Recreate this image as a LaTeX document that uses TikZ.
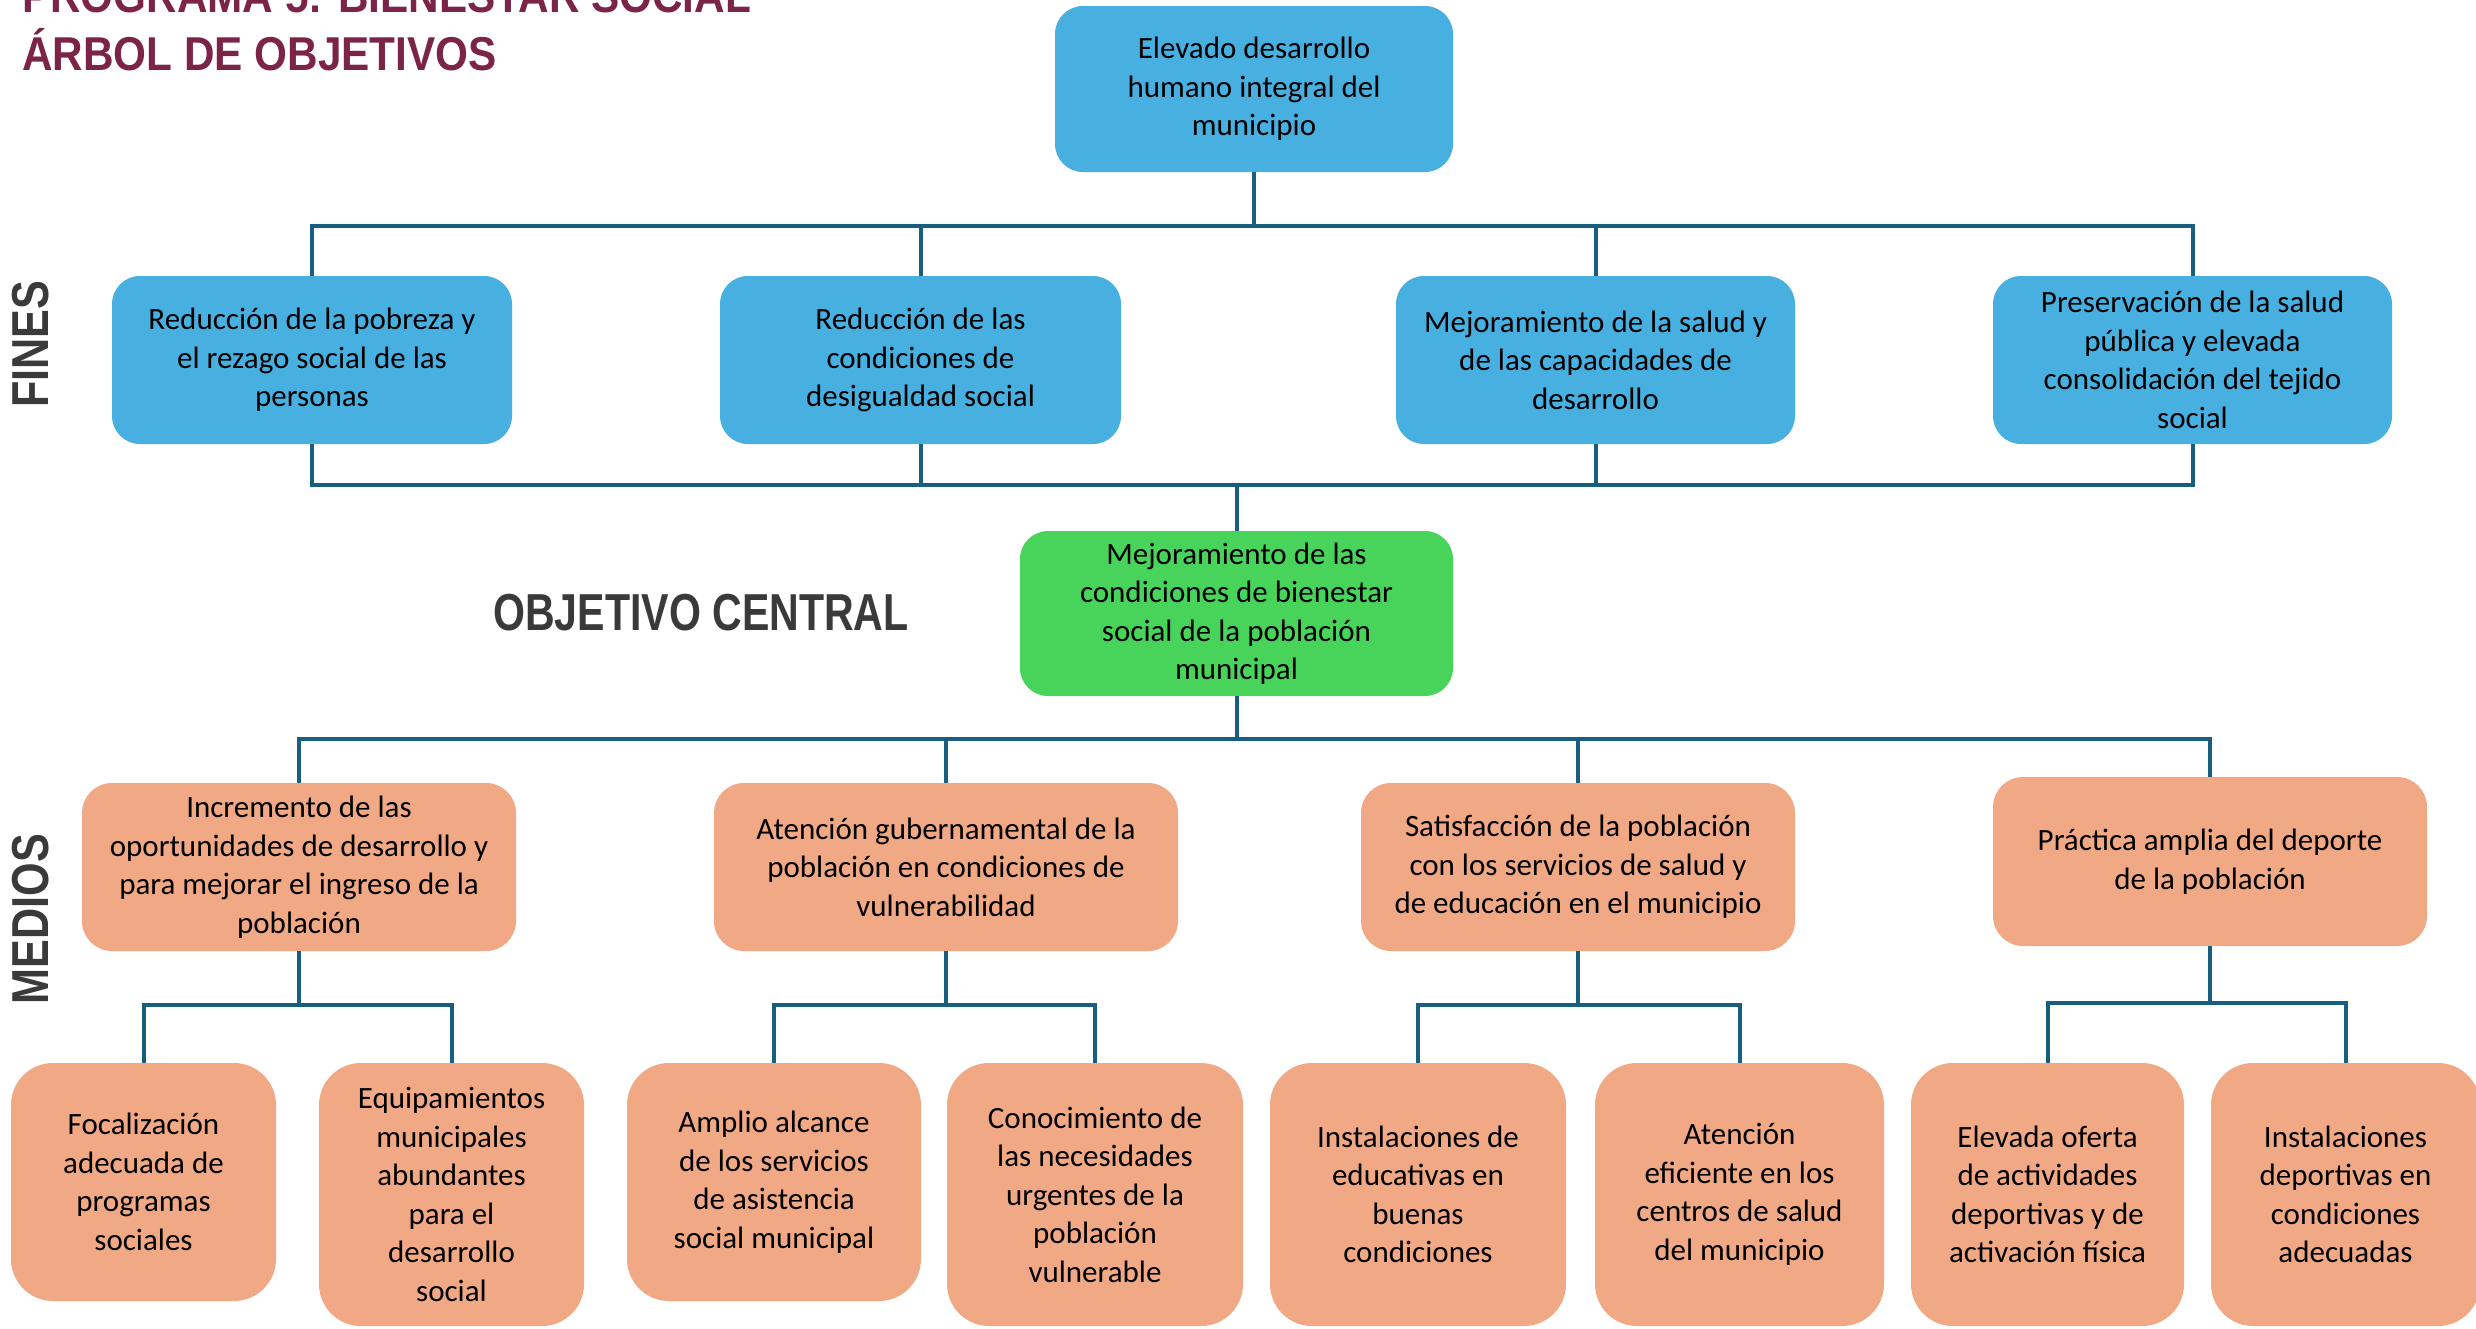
\documentclass[tikz,border=0pt]{standalone}
\usepackage{fontspec}
\setmainfont{Carlito}
\newfontfamily\labfont{Liberation Sans}
\definecolor{lncol}{RGB}{23,94,128}
\definecolor{bluefill}{RGB}{71,176,224}
\definecolor{greenfill}{RGB}{72,212,90}
\definecolor{salmonfill}{RGB}{241,169,133}
\definecolor{titlecol}{RGB}{124,35,72}
\definecolor{labcol}{RGB}{58,58,58}
\tikzset{
  boxbase/.style={rectangle, inner sep=0pt, align=center, text=black,
    font=\fontsize{31}{38.5}\selectfont},
  bluebox/.style={boxbase, fill=bluefill, rounded corners=28pt},
  greenbox/.style={boxbase, fill=greenfill, rounded corners=28pt},
  medbox/.style={boxbase, fill=salmonfill, rounded corners=30pt},
  kidbox/.style={boxbase, fill=salmonfill, rounded corners=42pt},
  conn/.style={draw=lncol, line width=4pt},
  sidelab/.style={text=labcol, font=\labfont\bfseries\fontsize{52}{60}\selectfont, inner sep=0pt},
  titlelab/.style={text=titlecol, font=\labfont\bfseries\fontsize{47.5}{56}\selectfont, inner sep=0pt, anchor=base west}
}
\begin{document}
\begin{tikzpicture}[x=1pt,y=-1pt]
\useasboundingbox (0,0) rectangle (2476,1328);
\fill[white] (0,0) rectangle (2476,1328);
\begin{scope}
\clip (0,0) rectangle (2476,1328);

% titles
\node[titlelab] (t1) at (22,12) {\scalebox{0.89}[1]{PROGRAMA 5: BIENESTAR SOCIAL}};
\node[titlelab] (t2) at (22,70) {\scalebox{0.89}[1]{ÁRBOL DE OBJETIVOS}};

% side labels
\node[sidelab, rotate=90] (fines) at (31,344) {\scalebox{0.83}[1]{FINES}};
\node[sidelab, rotate=90] (medios) at (31,919) {\scalebox{0.83}[1]{MEDIOS}};
\node[sidelab] (objc) at (701,613) {\scalebox{0.79}[1]{OBJETIVO CENTRAL}};

% top
\node[bluebox, minimum width=398pt, minimum height=166pt] (top) at (1254,89)
  {Elevado desarrollo\\humano integral del\\municipio};

% fines
\node[bluebox, minimum width=400pt, minimum height=168pt] (f1) at (312,360)
  {Reducción de la pobreza y\\el rezago social de las\\personas};
\node[bluebox, minimum width=401pt, minimum height=168pt] (f2) at (920.5,360)
  {Reducción de las\\condiciones de\\desigualdad social};
\node[bluebox, minimum width=399pt, minimum height=168pt] (f3) at (1595.5,360)
  {Mejoramiento de la salud y\\de las capacidades de\\desarrollo};
\node[bluebox, minimum width=399pt, minimum height=168pt] (f4) at (2192.5,360)
  {Preservación de la salud\\pública y elevada\\consolidación del tejido\\social};

% central
\node[greenbox, minimum width=433pt, minimum height=165pt] (cen) at (1236.5,613.5)
  {Mejoramiento de las\\condiciones de bienestar\\social de la población\\municipal};

% medios
\node[medbox, minimum width=434pt, minimum height=168pt] (m1) at (299,867)
  {Incremento de las\\oportunidades de desarrollo y\\para mejorar el ingreso de la\\población};
\node[medbox, minimum width=464pt, minimum height=168pt] (m2) at (946,867)
  {Atención gubernamental de la\\población en condiciones de\\vulnerabilidad};
\node[medbox, minimum width=434pt, minimum height=168pt] (m3) at (1578,867)
  {Satisfacción de la población\\con los servicios de salud y\\de educación en el municipio};
\node[medbox, minimum width=434pt, minimum height=169pt] (m4) at (2210,861.5)
  {Práctica amplia del deporte\\de la población};

% children
\node[kidbox, minimum width=265pt, minimum height=238pt] (c1) at (143.5,1182)
  {Focalización\\adecuada de\\programas\\sociales};
\node[kidbox, minimum width=265pt, minimum height=263pt] (c2) at (451.5,1194.5)
  {Equipamientos\\municipales\\abundantes\\para el\\desarrollo\\social};
\node[kidbox, minimum width=294pt, minimum height=238pt] (c3) at (774,1182)
  {Amplio alcance\\de los servicios\\de asistencia\\social municipal};
\node[kidbox, minimum width=296pt, minimum height=263pt] (c4) at (1095,1194.5)
  {Conocimiento de\\las necesidades\\urgentes de la\\población\\vulnerable};
\node[kidbox, minimum width=296pt, minimum height=263pt] (c5) at (1418,1194.5)
  {Instalaciones de\\educativas en\\buenas\\condiciones};
\node[kidbox, minimum width=289pt, minimum height=263pt] (c6) at (1739.5,1194.5)
  {Atención\\eficiente en los\\centros de salud\\del municipio};
\node[kidbox, minimum width=273pt, minimum height=263pt] (c7) at (2047.5,1194.5)
  {Elevada oferta\\de actividades\\deportivas y de\\activación física};
\node[kidbox, minimum width=269pt, minimum height=263pt] (c8) at (2345.5,1194.5)
  {Instalaciones\\deportivas en\\condiciones\\adecuadas};

% connectors
\coordinate (b1) at (1254,226);
\draw[conn] (top.south) -- (b1);
\draw[conn] (f1.north) |- (b1) -| (f4.north);
\draw[conn] (f2.north) -- (f2.north |- b1);
\draw[conn] (f3.north) -- (f3.north |- b1);

\coordinate (b2) at (1236.5,485);
\draw[conn] (f1.south) |- (b2) -| (f4.south);
\draw[conn] (f2.south) -- (f2.south |- b2);
\draw[conn] (f3.south) -- (f3.south |- b2);
\draw[conn] (b2) -- (cen.north);

\coordinate (b3) at (1236.5,739);
\draw[conn] (cen.south) -- (b3);
\draw[conn] (m1.north) |- (b3) -| (m4.north);
\draw[conn] (m2.north) -- (m2.north |- b3);
\draw[conn] (m3.north) -- (m3.north |- b3);

\coordinate (s1) at (299,1005);
\coordinate (s2) at (946,1005);
\coordinate (s3) at (1578,1005);
\coordinate (s4) at (2210,1003);
\draw[conn] (m1.south) -- (s1);
\draw[conn] (c1.north) |- (s1) -| (c2.north);
\draw[conn] (m2.south) -- (s2);
\draw[conn] (c3.north) |- (s2) -| (c4.north);
\draw[conn] (m3.south) -- (s3);
\draw[conn] (c5.north) |- (s3) -| (c6.north);
\draw[conn] (m4.south) -- (s4);
\draw[conn] (c7.north) |- (s4) -| (c8.north);
\end{scope}
\end{tikzpicture}
\end{document}
